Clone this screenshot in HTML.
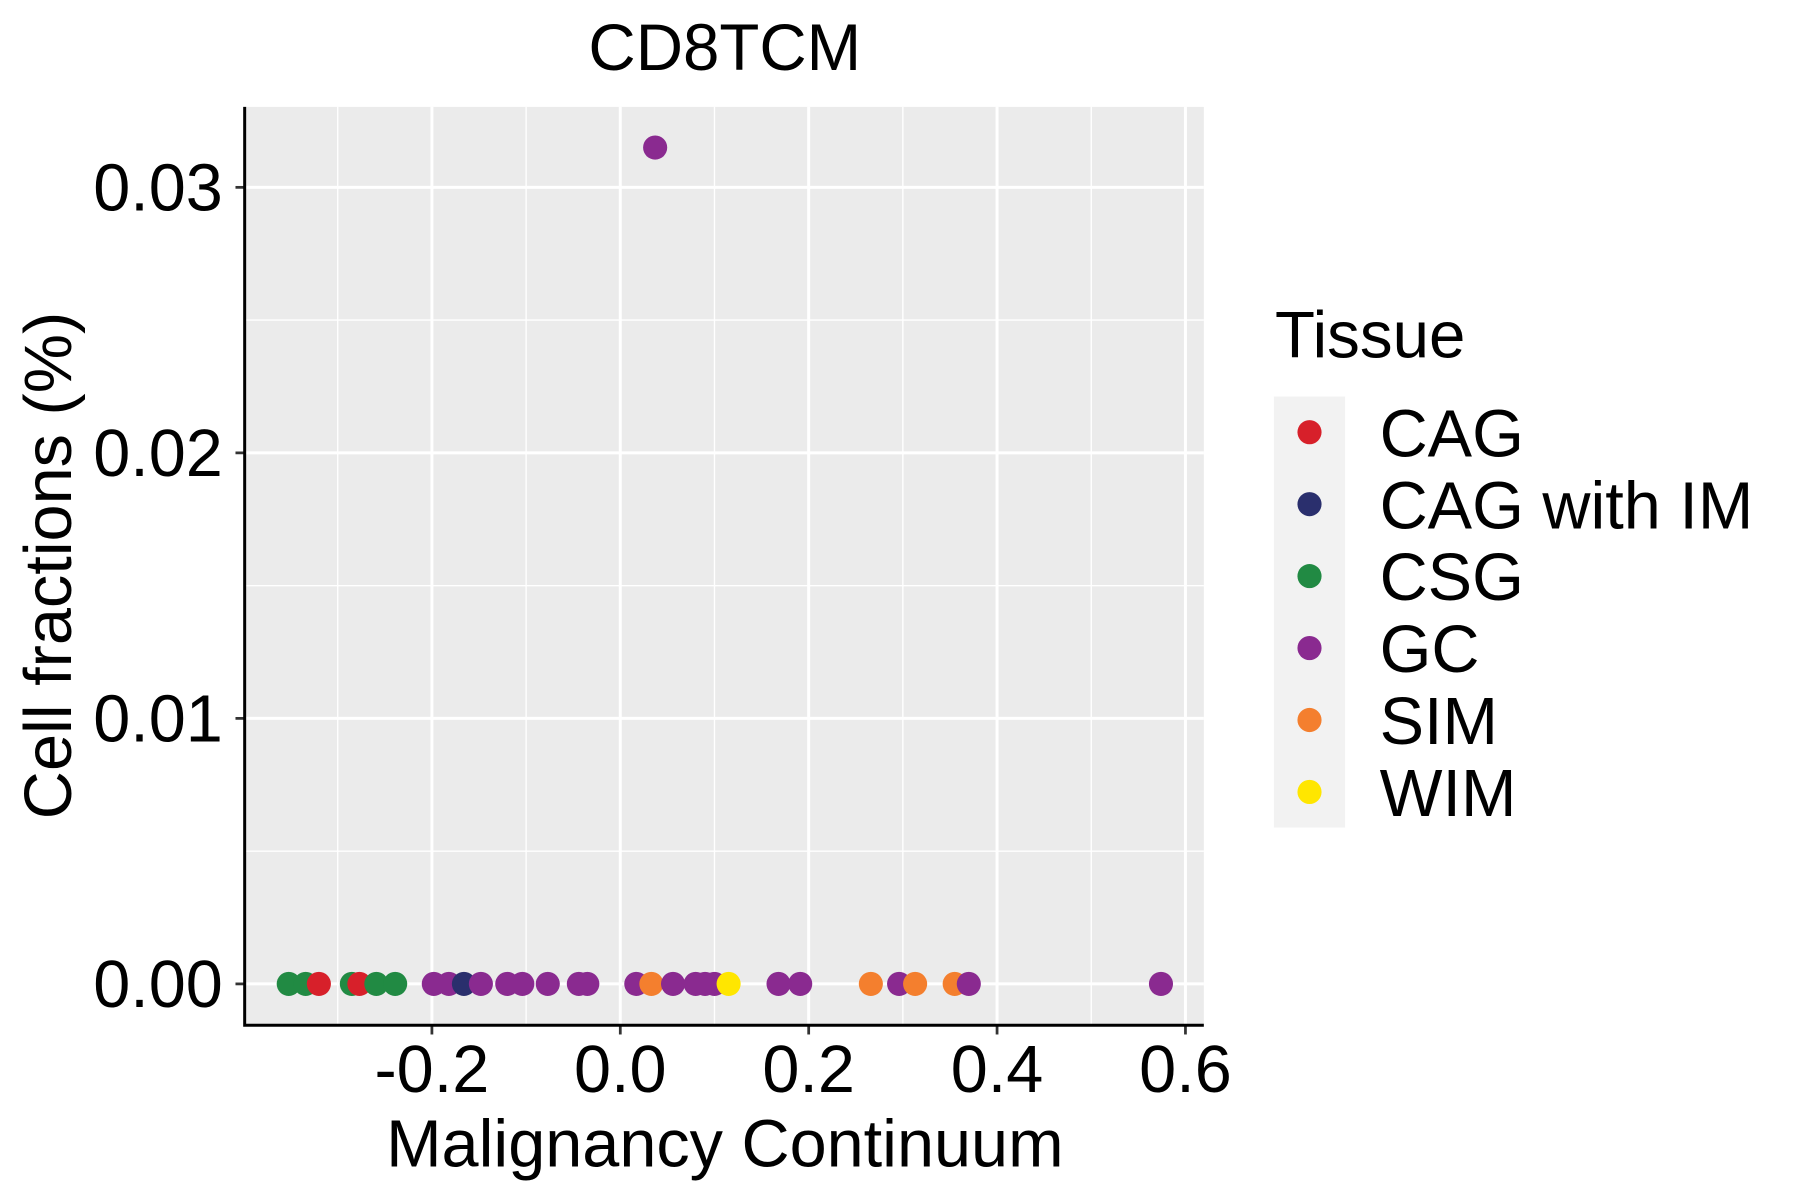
<!DOCTYPE html>
<html><head><meta charset="utf-8"><style>
html,body{margin:0;padding:0;background:#fff;}
svg{display:block;font-family:"Liberation Sans",Arial,sans-serif;}
</style></head><body>
<svg id="chart" width="1800" height="1200" viewBox="0 0 1567 1044" preserveAspectRatio="none" xmlns="http://www.w3.org/2000/svg">
<rect x="0" y="0" width="1567" height="1044" fill="#fff"/>
<rect x="213" y="93" width="835" height="799" fill="#ebebeb"/>
<g id="grid"></g>
<g id="points"></g>
<g id="axes"></g>
<text x="631" y="61" font-size="57" text-anchor="middle">CD8TCM</text>
<text x="631" y="1015" font-size="58" text-anchor="middle">Malignancy Continuum</text>
<text transform="translate(62,492) rotate(-90)" font-size="58" text-anchor="middle">Cell fractions (%)</text>
<g id="legend">
<text x="1110" y="311" font-size="57">Tissue</text>
<rect x="1109" y="345" width="62" height="375" fill="#f2f2f2"/>
</g>
</svg>
<script>
const categories = ["CAG","CAG with IM","CSG","GC","SIM","WIM"];
const colors = ["#d7202a","#2a2f6d","#218a43","#8a2a90","#f47f2e","#ffe600"];
const xValues = [-0.352,-0.334,-0.320,-0.285,-0.277,-0.259,-0.239,-0.198,-0.182,-0.166,-0.148,-0.120,-0.104,-0.077,-0.044,-0.035,0.017,0.033,0.056,0.080,0.090,0.100,0.115,0.168,0.191,0.266,0.296,0.313,0.355,0.370,0.574,0.037];
const yValues = [0,0,0,0,0,0,0,0,0,0,0,0,0,0,0,0,0,0,0,0,0,0,0,0,0,0,0,0,0,0,0,0.0315];
const groups = ["CSG","CSG","CAG","CSG","CAG","CSG","CSG","GC","GC","CAG with IM","GC","GC","GC","GC","GC","GC","GC","SIM","GC","GC","GC","GC","WIM","GC","GC","SIM","GC","SIM","SIM","GC","GC","GC"];
const xTicks = [-0.2,0.0,0.2,0.4,0.6];
const xTickLabels = ["-0.2","0.0","0.2","0.4","0.6"];
const yTicks = [0,0.01,0.02,0.03];
const yTickLabels = ["0.00","0.01","0.02","0.03"];

const NS="http://www.w3.org/2000/svg";
const X = v => 540 + v*820;
const Y = v => 856 - v*23100;
const L=213,R=1048,T=93,B=892;
function mk(tag, attrs, parent){const e=document.createElementNS(NS,tag);for(const k in attrs)e.setAttribute(k,attrs[k]);parent.appendChild(e);return e;}
const grid=document.getElementById('grid'), pts=document.getElementById('points'), axes=document.getElementById('axes'), legend=document.getElementById('legend');
for(let i=0;i<=xTicks.length;i++){
  const m=(i<xTicks.length?xTicks[i]:xTicks[xTicks.length-1]+0.2)-0.1; const x=X(m);
  if(x>L&&x<R){const g=mk('line',{x1:x,x2:x,y1:T,y2:B,stroke:'#fff','stroke-width':1.2},grid);
  
  }
}
for(let i=0;i<yTicks.length;i++){
  const y=Y(yTicks[i]+0.005);
  if(y>T&&y<B){const g=mk('line',{x1:L,x2:R,y1:y,y2:y,stroke:'#fff','stroke-width':1.2},grid);
  
  }
}
xTicks.forEach((t,i)=>{
  const x=X(t);
  const g=mk('line',{x1:x,x2:x,y1:T,y2:B,stroke:'#fff','stroke-width':2.6},grid);
  
  
  mk('line',{x1:x,x2:x,y1:B,y2:B+8,stroke:'#333','stroke-width':2.4},axes);
  const tx=mk('text',{x:x,y:950,'font-size':58,'text-anchor':'middle'},axes);
  tx.textContent=xTickLabels[i];
  
  
});
yTicks.forEach((t,i)=>{
  const y=Y(t);
  const g=mk('line',{x1:L,x2:R,y1:y,y2:y,stroke:'#fff','stroke-width':2.6},grid);
  
  
  mk('line',{x1:L-8,x2:L,y1:y,y2:y,stroke:'#333','stroke-width':2.4},axes);
  const tx=mk('text',{x:194,y:y+20,'font-size':58,'text-anchor':'end'},axes);
  tx.textContent=yTickLabels[i];
  
  
});
const ax=mk('path',{d:`M${L},${T} L${L},${B} L${R},${B}`,fill:'none',stroke:'#000','stroke-width':2.6},axes);


xValues.forEach((v,i)=>{
  const c=mk('circle',{cx:X(v),cy:Y(yValues[i]),r:10.5,fill:colors[categories.indexOf(groups[i])]},pts);
  
  
});
categories.forEach((c,i)=>{
  const y=376+i*62.6;
  const d=mk('circle',{cx:1140,cy:y,r:10.5,fill:colors[i]},legend);
  
  
  const t=mk('text',{x:1201,y:y+21,'font-size':58},legend);
  t.textContent=c;
  
  
});
</script>
</body></html>
